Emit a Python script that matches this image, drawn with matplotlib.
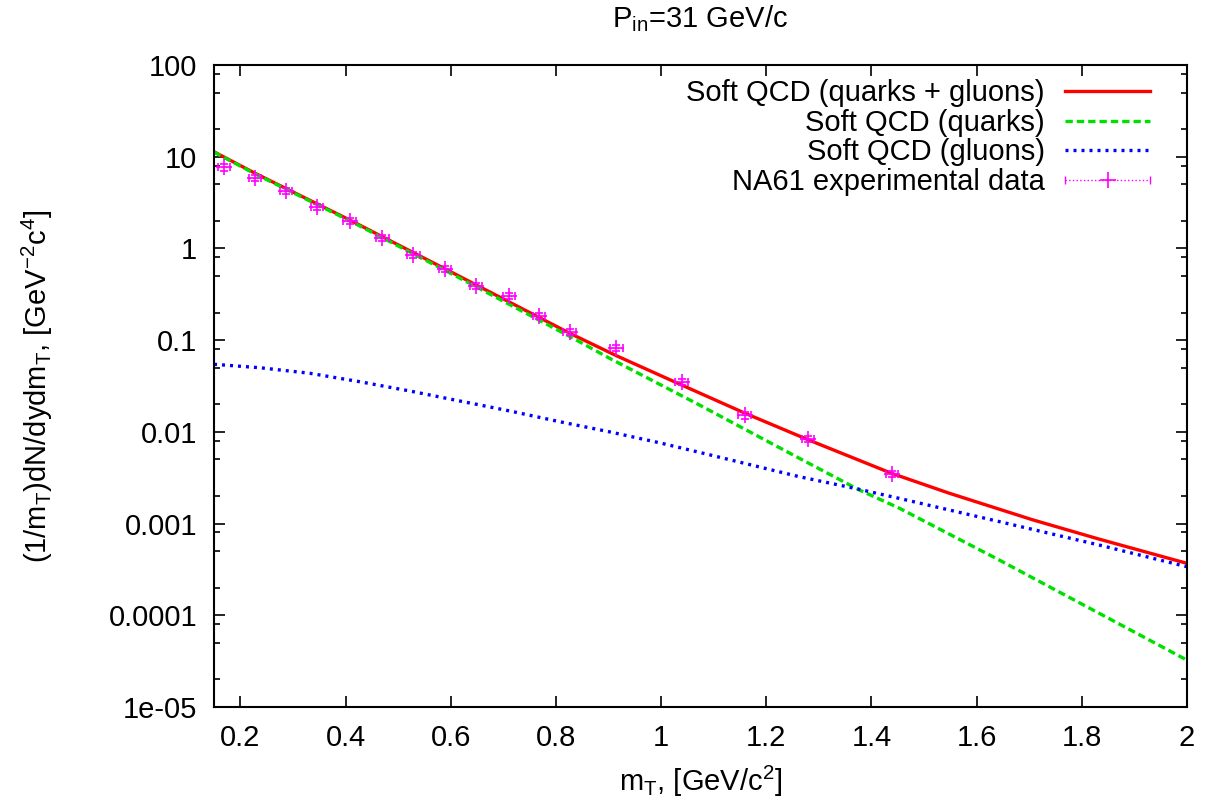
import matplotlib
matplotlib.use('Agg')
import matplotlib.pyplot as plt
import matplotlib.ticker as mticker
from matplotlib.lines import Line2D
from matplotlib.legend_handler import HandlerLine2D
import numpy as np

plt.rcParams['font.family'] = ['Liberation Sans', 'DejaVu Sans']
plt.rcParams['mathtext.fontset'] = 'custom'
plt.rcParams['mathtext.rm'] = 'Liberation Sans'
plt.rcParams['mathtext.it'] = 'Liberation Sans:italic'
plt.rcParams['mathtext.bf'] = 'Liberation Sans:bold'

# soft QCD, quarks + gluons
mt_total = [0.15, 0.228, 0.408, 0.600, 0.826, 0.915, 1.039, 1.159, 1.279,
            1.437, 1.548, 1.706, 1.833, 2.0]
y_total = [11.3, 6.6, 2.04, 0.556, 0.119, 0.0676, 0.0324, 0.0160, 0.00822,
           0.00355, 0.00214, 0.00110, 0.000676, 0.000368]

# quarks only
mt_quarks = [0.15, 0.228, 0.408, 0.600, 0.693, 0.826, 0.902, 1.073, 1.263,
             1.377, 1.453, 1.643, 1.833, 2.0]
y_quarks = [11.2, 6.5, 2.0, 0.535, 0.279, 0.110, 0.0634, 0.0196, 0.00514,
            0.00232, 0.00147, 0.00040, 0.000105, 3.24e-5]

# gluons only
mt_gluons = [0.15, 0.237, 0.332, 0.427, 0.522, 0.617, 0.712, 0.807, 0.902,
             0.997, 1.086, 1.263, 1.377, 1.453, 1.643, 1.833, 2.0]
y_gluons = [0.0545, 0.0500, 0.0435, 0.0352, 0.0279, 0.0217, 0.0169, 0.0129,
            0.0100, 0.0076, 0.00573, 0.00324, 0.00236, 0.00188, 0.00105,
            0.000583, 0.000338]

# NA61 data
mt_data = [0.169, 0.228, 0.287, 0.346, 0.408, 0.470, 0.529, 0.589, 0.648,
           0.711, 0.768, 0.826, 0.915, 1.039, 1.159, 1.279, 1.439]
y_data = [7.66, 5.90, 4.26, 2.85, 2.00, 1.31, 0.848, 0.596, 0.392, 0.303,
          0.183, 0.1225, 0.082, 0.0349, 0.0151, 0.00841, 0.00347]
x_err = [0.012] * len(mt_data)
y_err = [0.08 * v for v in y_data]

fs = 21
magenta = '#ff00ff'

fig = plt.figure(figsize=(12.21, 8.09), dpi=100)
ax = fig.add_axes([0.1753, 0.1261, 0.7969, 0.7936])

lw = 2.4
l1, = ax.plot(mt_total, y_total, color='#ff0000', lw=lw)
l2, = ax.plot(mt_quarks, y_quarks, color='#00e000', lw=lw, dashes=(2.2, 1.2))
l3, = ax.plot(mt_gluons, y_gluons, color='#0000ff', lw=lw, dashes=(0.9, 1.5))
eb = ax.errorbar(mt_data, y_data, xerr=x_err, yerr=y_err, fmt='+', color=magenta,
                 ms=11, mew=1.2, elinewidth=1.0, capsize=3, capthick=1.0)
for line in eb[2]:
    line.set_linestyle(':')

ax.set_yscale('log')
ax.set_xlim(0.15, 2.0)

ax.set_xticks(np.arange(0.2, 2.01, 0.2))
ax.xaxis.set_major_formatter(mticker.FuncFormatter(lambda v, p: ('%.1f' % v).rstrip('0').rstrip('.')))
ax.set_yticks([1e-5, 1e-4, 1e-3, 1e-2, 1e-1, 1, 10, 100])
ax.set_yticklabels(['1e-05', '0.0001', '0.001', '0.01', '0.1', '1', '10', '100'])
ax.yaxis.set_minor_locator(mticker.LogLocator(base=10, subs=[2, 5, 8], numticks=20))
ax.yaxis.set_minor_formatter(mticker.NullFormatter())
ax.set_ylim(1e-5, 100)

ax.tick_params(which='both', direction='in', top=True, right=True, labelsize=fs,
               pad=12, width=1.2)
ax.tick_params(which='major', length=8)
ax.tick_params(which='minor', length=4)
for s in ax.spines.values():
    s.set_linewidth(1.5)

ax.set_xlabel(r'm$_\mathrm{T}$, [GeV/c$^2$]', fontsize=fs, labelpad=9)
ax.set_ylabel(r'(1/m$_\mathrm{T}$)dN/dydm$_\mathrm{T}$, [GeV$^{-2}$c$^4$]', fontsize=fs)
ax.yaxis.set_label_coords(-0.163, 0.5)
fig.text(0.5735, 1 - 27 / 809, r'P$_\mathrm{in}$=31 GeV/c', fontsize=fs,
         ha='center', va='baseline')

# gnuplot-like legend sample for the error bar points
h_data = Line2D([], [], color=magenta, ls=':', lw=1.0, marker='+', ms=11, mew=1.2)
h_caps = Line2D([], [], color=magenta, ls='none', marker='|', ms=6, mew=1.0)

ax.legend([l1, l2, l3, (h_data, h_caps)],
          ['Soft QCD (quarks + gluons)', 'Soft QCD (quarks)', 'Soft QCD (gluons)',
           'NA61 experimental data'],
          handler_map={h_caps: HandlerLine2D(numpoints=2, marker_pad=0)},
          loc='upper right', bbox_to_anchor=(1150 / 1221, 1 - 79 / 809),
          bbox_transform=fig.transFigure, frameon=False, markerfirst=False,
          fontsize=fs, handlelength=2.9, handletextpad=0.7, labelspacing=0.06,
          borderpad=0, borderaxespad=0)

fig.savefig('out.png', dpi=100)
